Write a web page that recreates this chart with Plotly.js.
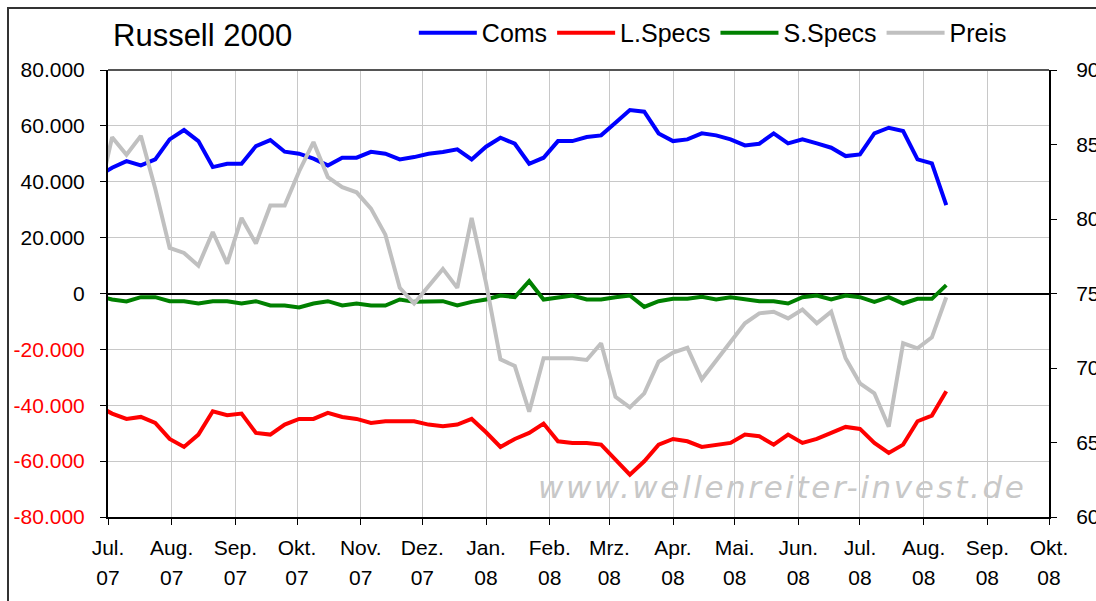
<!DOCTYPE html>
<html>
<head>
<meta charset="utf-8">
<script src="https://cdn.plot.ly/plotly-3.0.1.min.js"></script>
<style>
  html, body { margin: 0; padding: 0; background: #ffffff; }
  #chart { width: 1096px; height: 601px; }
</style>
</head>
<body>
<div id="chart"></div>
<script>
// ---- data (weekly COT report dates, Tuesday) ----
var dates = [
  '2007-06-26','2007-07-03','2007-07-10','2007-07-17','2007-07-24','2007-07-31',
  '2007-08-07','2007-08-14','2007-08-21','2007-08-28','2007-09-04','2007-09-11',
  '2007-09-18','2007-09-25','2007-10-02','2007-10-09','2007-10-16','2007-10-23',
  '2007-10-30','2007-11-06','2007-11-13','2007-11-20','2007-11-27','2007-12-04',
  '2007-12-11','2007-12-18','2007-12-25','2008-01-01','2008-01-08','2008-01-15',
  '2008-01-22','2008-01-29','2008-02-05','2008-02-12','2008-02-19','2008-02-26',
  '2008-03-04','2008-03-11','2008-03-18','2008-03-25','2008-04-01','2008-04-08',
  '2008-04-15','2008-04-22','2008-04-29','2008-05-06','2008-05-13','2008-05-20',
  '2008-05-27','2008-06-03','2008-06-10','2008-06-17','2008-06-24','2008-07-01',
  '2008-07-08','2008-07-15','2008-07-22','2008-07-29','2008-08-05','2008-08-12'
];
var coms = [
  41900, 45000, 47400, 45850, 48000, 55160,
  58500, 54560, 45250, 46450, 46450, 52770,
  54920, 50750, 50030, 48240, 45850, 48600,
  48600, 50700, 50030, 48000, 48830, 50030,
  50630, 51580, 48000, 52540, 55760, 53610,
  46450, 48600, 54560, 54560, 56000, 56600,
  61130, 65670, 65070, 57310, 54560, 55160,
  57310, 56600, 55160, 53010, 53610, 57310,
  53730, 55160, 53730, 52180, 49190, 49790,
  57310, 59340, 58150, 48000, 46570, 31640
];
var lSpecs = [
  -40240, -42980, -44890, -44180, -46330, -52060,
  -54920, -50510, -42150, -43580, -42980, -49910,
  -50510, -46920, -44890, -44890, -42740, -44180,
  -44890, -46330, -45730, -45730, -45730, -46920,
  -47520, -46920, -44890, -49670, -54920, -52060,
  -49910, -46570, -52900, -53490, -53490, -54090,
  -59460, -64830, -60060, -54090, -52060, -52900,
  -54920, -54090, -53490, -50510, -51100, -54090,
  -50510, -53490, -52060, -49910, -47760, -48480,
  -53490, -57070, -54090, -45730, -43700, -34980
];
var sSpecs = [
  -950, -2150, -2870, -1310, -1310, -2750,
  -2750, -3580, -2750, -2750, -3580, -2750,
  -4300, -4300, -5010, -3580, -2750, -4300,
  -3580, -4300, -4300, -2150, -2990, -2750,
  -2750, -4300, -2990, -2150, -720, -1310,
  4420, -2150, -1310, -720, -2150, -2150,
  -1310, -720, -4780, -2750, -1910, -1910,
  -1190, -2150, -1310, -2150, -2750, -2750,
  -3580, -1310, -720, -2150, -720, -1310,
  -2990, -1310, -3580, -1910, -1910, 2990
];
var preis = [
  812.0, 854.9, 843.1, 855.8, 820.3, 780.6,
  777.2, 768.7, 791.3, 770.1, 800.7, 783.5,
  809.1, 809.1, 831.9, 851.6, 828.1, 821.4,
  817.9, 807.0, 789.5, 753.8, 743.3, 754.9,
  766.5, 753.8, 800.7, 757.0, 705.8, 701.3,
  670.7, 706.5, 706.5, 706.5, 705.4, 716.6,
  680.7, 673.6, 683.0, 704.2, 710.3, 713.6,
  692.4, 705.1, 717.0, 730.0, 736.7, 737.8,
  733.3, 739.3, 730.0, 737.8, 706.5, 689.7,
  683.0, 660.6, 716.6, 713.2, 720.6, 747.5
];

// ---- axis labels ----
var monthTicks = ['2007-07-01','2007-08-01','2007-09-01','2007-10-01','2007-11-01','2007-12-01',
  '2008-01-01','2008-02-01','2008-03-01','2008-04-01','2008-05-01','2008-06-01',
  '2008-07-01','2008-08-01','2008-09-01','2008-10-01'];
var monthLabels = ['Jul.','Aug.','Sep.','Okt.','Nov.','Dez.','Jan.','Feb.','Mrz.','Apr.','Mai.','Jun.',
  'Jul.','Aug.','Sep.','Okt.'];
var yearLabels = ['07','07','07','07','07','07','08','08','08','08','08','08','08','08','08','08'];
var leftTicks = [-80000, -60000, -40000, -20000, 0, 20000, 40000, 60000, 80000];
var leftLabels = ['-80.000','-60.000','-40.000','-20.000','0','20.000','40.000','60.000','80.000'];
var rightTicks = [600, 650, 700, 750, 800, 850, 900];
var rightLabels = ['600','650','700','750','800','850','900'];
var seriesNames = ['Coms', 'L.Specs', 'S.Specs', 'Preis'];

var leftText = leftTicks.map(function (v, i) {
  return v < 0 ? '<span style="color:#ff0000">' + leftLabels[i] + '</span>' : leftLabels[i];
});

var FONT = 'Liberation Sans, Arial, sans-serif';
var W = 4;

var traces = [
  {x: dates, y: coms, name: seriesNames[0], type: 'scatter', mode: 'lines',
   line: {color: '#0000ff', width: W}, xaxis: 'x', yaxis: 'y'},
  {x: dates, y: lSpecs, name: seriesNames[1], type: 'scatter', mode: 'lines',
   line: {color: '#ff0000', width: W}, xaxis: 'x', yaxis: 'y'},
  {x: dates, y: sSpecs, name: seriesNames[2], type: 'scatter', mode: 'lines',
   line: {color: '#008000', width: W}, xaxis: 'x', yaxis: 'y'},
  {x: dates, y: preis, name: seriesNames[3], type: 'scatter', mode: 'lines',
   line: {color: '#c0c0c0', width: W}, xaxis: 'x2', yaxis: 'y2'}
];

var xRange = ['2007-07-01', '2008-10-01'];

var layout = {
  width: 1096, height: 601,
  margin: {l: 108, r: 47, t: 70, b: 84, pad: 0, autoexpand: false},
  paper_bgcolor: '#ffffff', plot_bgcolor: '#ffffff',
  font: {family: FONT, size: 21, color: '#000000'},
  title: {text: 'Russell 2000', x: 113 / 1096, xanchor: 'left', xref: 'container',
          y: 1 - 35 / 601, yanchor: 'middle', yref: 'container',
          font: {family: FONT, size: 31, color: '#000000'}},
  showlegend: true,
  legend: {orientation: 'h', x: 0.325, xanchor: 'left', y: 1.083, yanchor: 'middle',
           font: {family: FONT, size: 25, color: '#000000'}, bgcolor: 'rgba(0,0,0,0)',
           itemwidth: 58, tracegroupgap: 0},
  xaxis: {type: 'date', range: xRange, tickmode: 'array', tickvals: monthTicks, ticktext: monthLabels,
          ticks: 'outside', ticklen: 6, tickwidth: 1, tickcolor: '#000000',
          showline: true, linecolor: '#000000', linewidth: 2,
          showgrid: true, gridcolor: '#c8c8c8', gridwidth: 1,
          zeroline: false, tickfont: {family: FONT, size: 21}, ticklabelstandoff: 5,
          fixedrange: true},
  xaxis2: {type: 'date', range: xRange, overlaying: 'x', anchor: 'y2', side: 'bottom',
           tickmode: 'array', tickvals: monthTicks, ticktext: yearLabels,
           ticks: '', showline: false, showgrid: false, zeroline: false,
           tickfont: {family: FONT, size: 21}, ticklabelstandoff: 46, fixedrange: true},
  yaxis: {range: [-80000, 80000], tickmode: 'array', tickvals: leftTicks, ticktext: leftText,
          ticks: 'outside', ticklen: 6, tickwidth: 1, tickcolor: '#000000',
          showline: true, linecolor: '#000000', linewidth: 2,
          showgrid: true, gridcolor: '#c8c8c8', gridwidth: 1,
          zeroline: true, zerolinecolor: '#000000', zerolinewidth: 2,
          tickfont: {family: FONT, size: 21}, ticklabelstandoff: 11, fixedrange: true},
  yaxis2: {range: [600, 900], overlaying: 'y', side: 'right', anchor: 'x2',
           tickmode: 'array', tickvals: rightTicks, ticktext: rightLabels,
           ticks: 'outside', ticklen: 6, tickwidth: 1, tickcolor: '#000000',
           showline: true, linecolor: '#000000', linewidth: 2,
           showgrid: false, zeroline: false,
           tickfont: {family: FONT, size: 21}, ticklabelstandoff: 15, fixedrange: true},
  shapes: [
    // plot-area top border
    {type: 'line', xref: 'paper', yref: 'paper', x0: 0, x1: 1, y0: 1, y1: 1,
     line: {color: '#555555', width: 2}},
    // outer chart frame
    {type: 'rect', xref: 'paper', yref: 'paper',
     x0: (8 - 108) / 941, x1: (1110 - 108) / 941, y0: (517 - 615) / 447, y1: (517 - 8) / 447,
     line: {color: '#333333', width: 2}, fillcolor: 'rgba(0,0,0,0)'}
  ],
  annotations: [
    {text: '<i><span style="letter-spacing:2.6px">www.wellenreiter-invest.de</span></i>',
     xref: 'paper', yref: 'paper', x: (782 - 108) / 941, y: (517 - 487) / 447,
     xanchor: 'center', yanchor: 'middle', showarrow: false,
     font: {family: 'DejaVu Sans, Verdana, sans-serif', size: 31, color: '#c8c8c8'}}
  ]
};

Plotly.newPlot('chart', traces, layout, {displayModeBar: false, staticPlot: true});
</script>
</body>
</html>
